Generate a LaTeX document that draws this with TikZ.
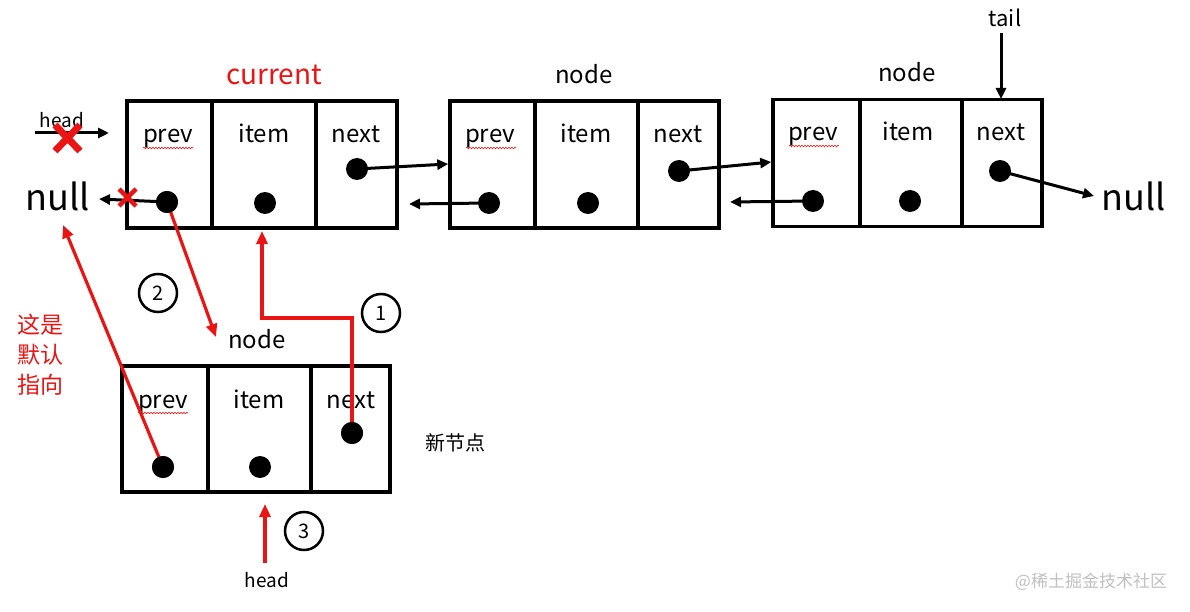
\documentclass[tikz,border=0pt]{standalone}
\usepackage{fontspec}
\setmainfont{Noto Sans CJK SC}
\usetikzlibrary{arrows.meta,decorations.pathmorphing}
\definecolor{myred}{RGB}{235,20,20}
\tikzset{
  box/.style={draw,line width=3.5pt,minimum width=#1,minimum height=127pt,inner sep=0pt},
  lbl/.style={font=\fontsize{24}{26}\selectfont,inner sep=0pt},
  cell/.style={lbl,anchor=base},
  dot/.style={circle,fill=black,minimum size=22pt,inner sep=0pt},
  blk/.style={line width=3pt,-{Triangle[length=11pt,width=10pt]}},
  redarr/.style={myred,line width=3.2pt,-{Triangle[length=13pt,width=11pt]}},
  num/.style={circle,draw,line width=2.5pt,minimum size=38pt,inner sep=0pt,font=\fontsize{20}{22}\selectfont},
  wavy/.style={myred,line width=0.6pt,decorate,decoration={snake,amplitude=0.8pt,segment length=3pt}},
  cross/.style={myred,line width=#1,line cap=butt}
}
\begin{document}
\begin{tikzpicture}[x=1pt,y=-1pt]
\useasboundingbox (0,0) rectangle (1190,612);
% ---------- box 1 (current)
\node[box=270pt] (b1) at (262,164.5) {};
\draw[line width=3.5pt] (212,101) -- (212,228) (316,101) -- (316,228);
\node[cell] (b1p) at (168,143) {prev};
\node[cell] (b1i) at (264,143) {item};
\node[cell] (b1n) at (356,143) {next};
\node[dot] (d1p) at (167,202) {};
\node[dot] (d1i) at (265,203) {};
\node[dot] (d1n) at (357,169) {};
% ---------- box 2
\node[box=269pt] (b2) at (584.5,164.5) {};
\draw[line width=3.5pt] (535,101) -- (535,228) (638,101) -- (638,228);
\node[cell] (b2p) at (490,143) {prev};
\node[cell] (b2i) at (586,143) {item};
\node[cell] (b2n) at (678,143) {next};
\node[dot] (d2p) at (489,203) {};
\node[dot] (d2i) at (588,203) {};
\node[dot] (d2n) at (679,171) {};
% ---------- box 3
\node[box=269pt] (b3) at (907.5,163) {};
\draw[line width=3.5pt] (860,99) -- (860,227) (962,99) -- (962,227);
\node[cell] (b3p) at (813,141) {prev};
\node[cell] (b3i) at (908,141) {item};
\node[cell] (b3n) at (1001,141) {next};
\node[dot] (d3p) at (813,201) {};
\node[dot] (d3i) at (910,201) {};
\node[dot] (d3n) at (1000,171) {};
% ---------- new node
\node[box=268pt,minimum height=126pt] (b4) at (256,429) {};
\draw[line width=3.5pt] (208,366) -- (208,492) (311,366) -- (311,492);
\node[cell] (b4p) at (163,408) {prev};
\node[cell] (b4i) at (259,408) {item};
\node[cell] (b4n) at (351,408) {next};
\node[dot] (d4p) at (163,467) {};
\node[dot] (d4i) at (260,467) {};
\node[dot] (d4n) at (352,433) {};
% wavy spellcheck underlines
\draw[wavy] (143,148) -- (193,148);
\draw[wavy] (466,148) -- (516,148);
\draw[wavy] (789,146) -- (839,146);
\draw[wavy] (138,413) -- (188,413);
% ---------- titles
\node[lbl,text=myred,font=\fontsize{28}{30}\selectfont] (cur) at (274,75) {current};
\node[lbl] (n2) at (584,74) {node};
\node[lbl] (n3) at (907,72) {node};
\node[lbl] (n4) at (257,339) {node};
\node[lbl,font=\fontsize{22}{24}\selectfont] (tail) at (1005,18) {tail};
\node[lbl,font=\fontsize{36}{38}\selectfont] (nullR) at (1134,196) {null};
\node[lbl,font=\fontsize{36}{38}\selectfont] (nullL) at (58,196) {null};
\node[lbl,font=\fontsize{19}{21}\selectfont] (headT) at (62,120) {head};
\node[lbl,font=\fontsize{19}{21}\selectfont] (headB) at (267,580) {head};
\node[lbl,font=\fontsize{20}{22}\selectfont] (newn) at (455,443) {新节点};
\node[lbl,text=myred,font=\fontsize{23}{30}\selectfont,align=left] (note) at (40,355) {这是\\默认\\指向};
\node[lbl,text=black!25,font=\fontsize{17}{19}\selectfont] (wm) at (1091,582) {@稀土掘金技术社区};
% ---------- black connectors
\coordinate (tailS) at (1001,33);
\coordinate (tailE) at (1001,99);
\coordinate (headTs) at (35,133);
\coordinate (headTe) at (109,133);
\coordinate (nullRtip) at (1094,196);
\coordinate (nullLtipB) at (99,199);
\coordinate (b2prevTip) at (409,204);
\coordinate (b3prevTip) at (730,202);
\draw[blk] (tailS) -- (tailE);
\draw[blk] (d1n.center) -- (b2.west |- 0,164);
\draw[blk] (d2p.center) -- (b2prevTip);
\draw[blk] (d2n.center) -- (b3.west |- 0,162);
\draw[blk] (d3p.center) -- (b3prevTip);
\draw[blk] (d3n.center) -- (nullRtip);
\draw[blk] (d1p.center) -- (nullLtipB);
\draw[blk] (headTs) -- (headTe);
% red crosses
\draw[cross=7pt] (55,125) -- (80,151) (80,125) -- (55,151);
\draw[cross=4.5pt] (119,189) -- (136,206) (136,189) -- (119,206);
% ---------- red connectors
\coordinate (n4arr) at (216,337);
\coordinate (b1bot) at (262,231);
\coordinate (nullLtip) at (63,225);
\coordinate (headBs) at (265,563);
\coordinate (b4bot) at (265,504);
\draw[redarr] (d1p.center) -- (n4arr);
\draw[redarr] (d4n.center) -- (352,318) -- (262,318) -- (b1bot);
\draw[redarr] (d4p.center) -- (nullLtip);
\draw[redarr] (headBs) -- (b4bot);
\node[dot] at (d1p) {};
\node[dot] at (d4n) {};
\node[dot] at (d4p) {};
% circled numbers
\node[num] (c1) at (381,313) {1};
\node[num] (c2) at (158,293) {2};
\node[num] (c3) at (304,531) {3};
\end{tikzpicture}
\end{document}
